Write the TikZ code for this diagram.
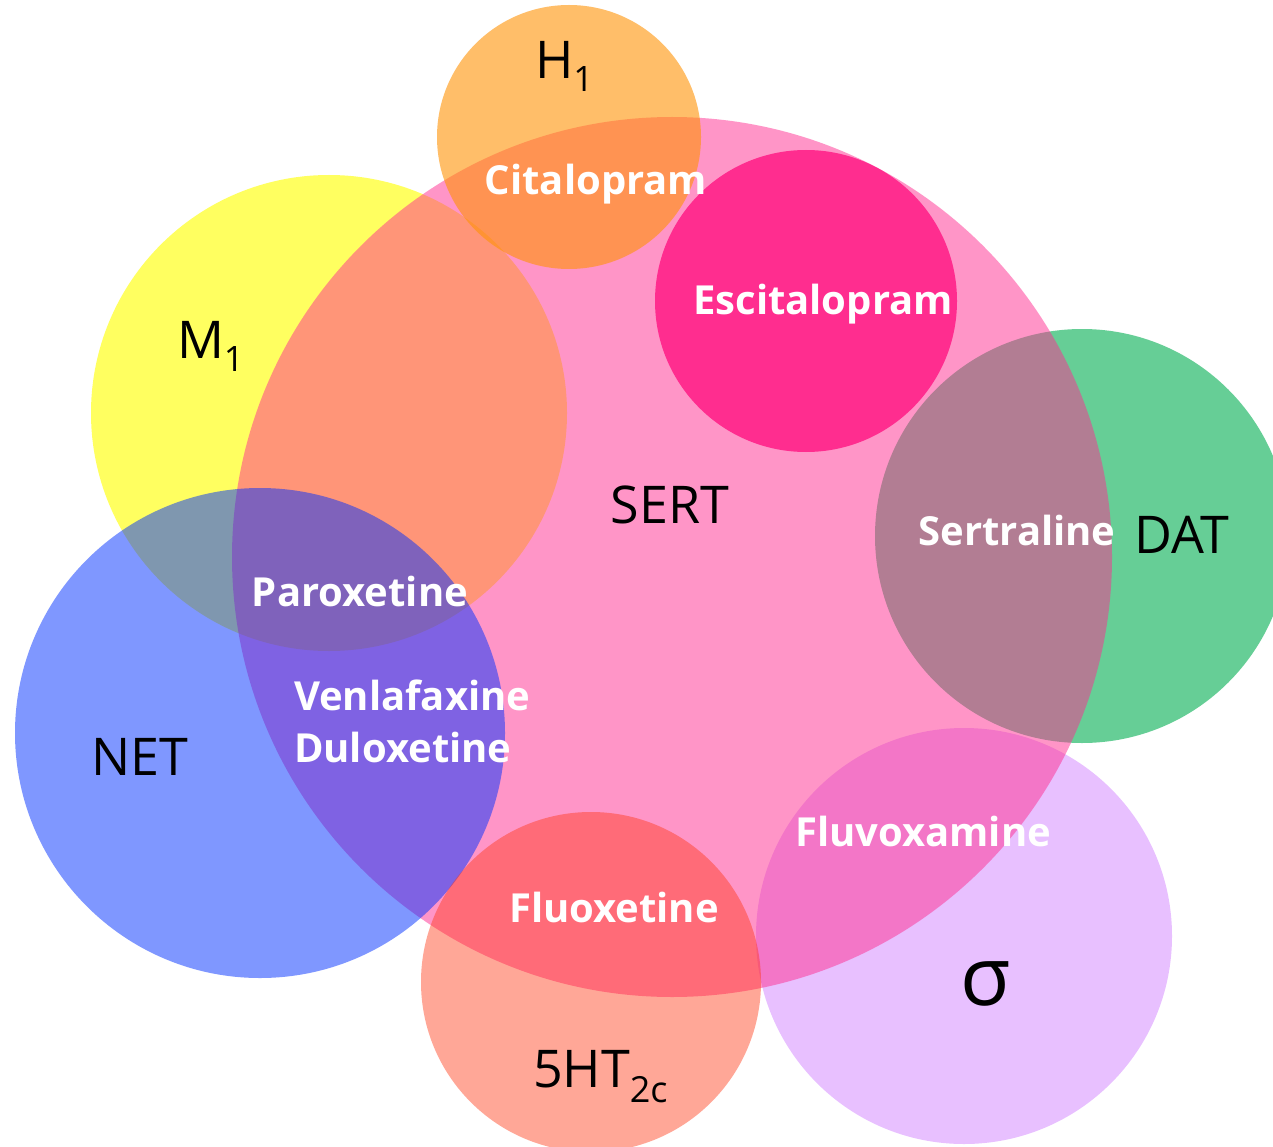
\documentclass[tikz,border=0pt]{standalone}
\usepackage{fontspec}
\setmainfont{Open Sans}
\begin{document}
\begin{tikzpicture}[x=1pt,y=-1pt,
  every node/.style={inner sep=0pt,outer sep=0pt},
  target/.style={font=\fontsize{52}{52}\selectfont,text=black},
  drug/.style={font=\fontsize{40}{40}\selectfont\bfseries,text=white}]
\definecolor{sertc}{RGB}{255,45,145}
\definecolor{escc}{RGB}{255,45,143}
\definecolor{monec}{RGB}{255,255,96}
\definecolor{datc}{RGB}{102,206,150}
\definecolor{sigc}{RGB}{232,192,255}
\definecolor{honec}{RGB}{255,147,5}
\definecolor{netc}{RGB}{1,49,255}
\definecolor{htc}{RGB}{255,53,16}
\useasboundingbox (0,0) rectangle (1273,1147);
\fill[white] (0,0) rectangle (1273,1147);
\clip (0,0) rectangle (1273,1147);
% receptor and transporter sets
\fill[monec] (329,413) circle[radius=238pt];
\fill[datc] (1082,536) circle[radius=207pt];
\fill[sigc] (964,936) circle[radius=208pt];
\fill[sertc,fill opacity=0.5] (672,557) circle[radius=440pt];
\fill[escc] (806,301) circle[radius=151pt];
\fill[honec,fill opacity=0.6] (569,137) circle[radius=132pt];
\fill[netc,fill opacity=0.5] (260,733) circle[radius=245pt];
\fill[htc,fill opacity=0.43] (591,982) circle[radius=170pt];
% target labels
\node[target,anchor=base west] (hone) at (535,79) {H\raisebox{-13pt}{\fontsize{35}{35}\selectfont 1}};
\node[target,anchor=base west] (mone) at (177,358) {M\raisebox{-13pt}{\fontsize{35}{35}\selectfont 1}};
\node[target,anchor=base] (sert) at (670,523) {SERT};
\node[target,anchor=base] (dat) at (1182,553) {DAT};
\node[target,anchor=base] (net) at (140,775) {NET};
\node[target,anchor=base west] (htc) at (533,1087) {5HT\raisebox{-15pt}{\fontsize{36}{36}\selectfont 2c}};
\node[target,anchor=base,font=\fontsize{82}{82}\selectfont] (sigma) at (986,1005) {σ};
% drug labels
\node[drug,anchor=base] (cit) at (596,195) {Citalopram};
\node[drug,anchor=base] (esc) at (823,315) {Escitalopram};
\node[drug,anchor=base] (ser) at (1017,545) {Sertraline};
\node[drug,anchor=base] (par) at (360,606) {Paroxetine};
\node[drug,anchor=base west] (ven) at (294,710) {Venlafaxine};
\node[drug,anchor=base west] (dul) at (294,762) {Duloxetine};
\node[drug,anchor=base] (fvx) at (923,846) {Fluvoxamine};
\node[drug,anchor=base] (flx) at (614,922) {Fluoxetine};
\end{tikzpicture}
\end{document}
